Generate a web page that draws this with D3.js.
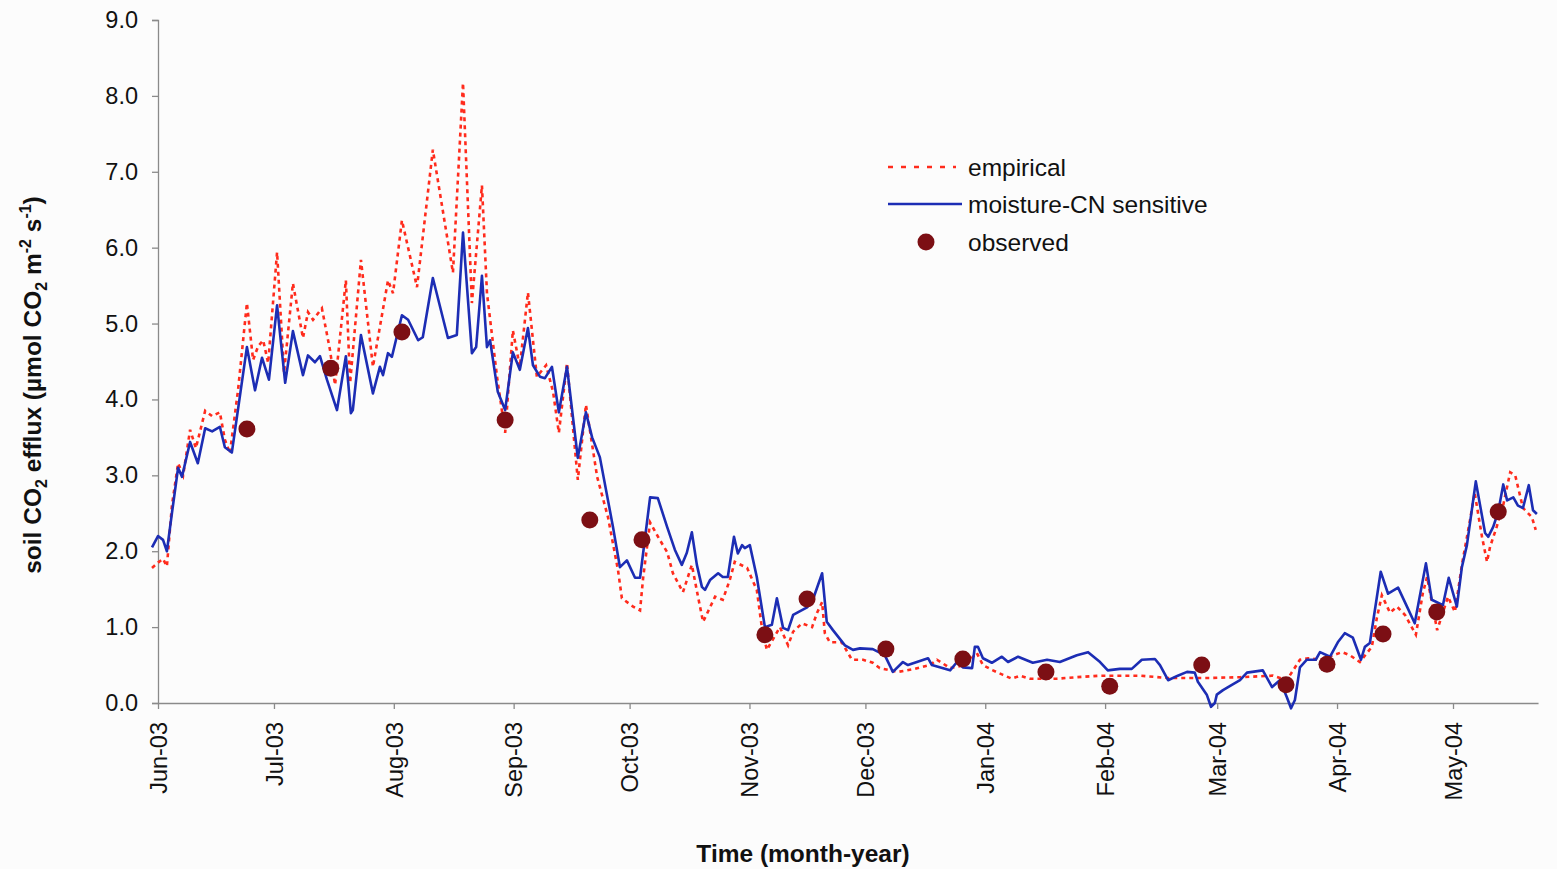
<!DOCTYPE html>
<html>
<head>
<meta charset="utf-8">
<script src="https://cdn.jsdelivr.net/npm/d3@7/dist/d3.min.js"></script>
<style>
  body { margin: 0; background: #fcfcfc; }
  svg { display: block; font-family: "Liberation Sans", Arial, sans-serif; }
</style>
</head>
<body>
<div class="chart"></div>
<script>
// days since 1 Jun 2003, value in umol CO2 m-2 s-1
const empirical = [
  [-1.55,1.78],[0,1.85],[1.3,1.9],[2.3,1.8],[3.6,2.6],[5.2,3.16],[6.5,3.0],[8.3,3.6],[9.8,3.36],
  [12.2,3.85],[14,3.78],[16,3.83],[17.3,3.47],[18.6,3.29],[20.7,4.12],[23,5.27],[24.6,4.52],
  [25.9,4.7],[27.2,4.78],[28.5,4.48],[30.8,5.94],[32.6,4.35],[34.9,5.53],[37.5,4.81],[38.8,5.15],
  [40.1,5.05],[42.4,5.2],[44.5,4.65],[45.8,4.19],[48.6,5.57],[49.7,4.22],[52.5,5.84],[55.6,4.43],
  [59.5,5.57],[60.8,5.4],[63.1,6.36],[67,5.48],[71.1,7.29],[76.3,5.67],[78.9,8.17],[81.2,5.27],
  [83.8,6.82],[85.1,5.4],[87.7,4.3],[89.8,3.56],[91.8,4.91],[93.6,4.43],[95.7,5.41],[98,4.3],
  [100.4,4.45],[102.2,4.1],[103.7,3.56],[105.8,4.48],[108.6,2.94],[110.7,3.93],[113.6,2.98],
  [116.4,2.45],[119,1.75],[120,1.38],[122.9,1.27],[124.7,1.22],[125.5,1.65],[127.3,2.38],
  [129.8,2.15],[131.7,1.99],[133.2,1.71],[135.8,1.46],[138.1,1.82],[139.7,1.4],[141,1.07],
  [142.8,1.26],[144.1,1.4],[146.1,1.36],[147.9,1.62],[149.2,1.86],[152.4,1.78],[154.9,1.49],
  [156.2,1.0],[157.5,0.7],[160.9,1.0],[163,0.76],[164.3,0.94],[166.6,1.05],[169.2,1.0],
  [170.5,1.19],[171.8,1.33],[172.5,0.92],[173.8,0.8],[176.9,0.8],[179.5,0.57],[182.4,0.57],
  [184.9,0.53],[186.7,0.46],[191.4,0.41],[195.8,0.45],[199.7,0.5],[201.5,0.57],[204.9,0.46],
  [208.8,0.5],[211.8,0.66],[213.4,0.5],[216,0.43],[218.6,0.37],[220.9,0.32],[223,0.36],
  [225.6,0.32],[232.5,0.32],[237.7,0.34],[243.7,0.36],[254,0.36],[261,0.33],[272.1,0.33],
  [279.9,0.34],[288.4,0.36],[292,0.3],[295.4,0.57],[297.5,0.59],[300.6,0.57],[306.3,0.67],
  [308.3,0.63],[310.9,0.54],[314,0.74],[315.3,1.12],[316.6,1.42],[318.7,1.19],[320.5,1.27],
  [322.6,1.16],[325.4,0.9],[327.2,1.45],[328.3,1.66],[330.9,0.96],[333.7,1.4],[335.5,1.2],
  [337.3,1.82],[339.4,2.41],[340.6,2.77],[342.5,2.19],[343.8,1.86],[344.6,2.06],[346.3,2.32],
  [348,2.61],[349.8,3.04],[351.1,3.0],[353.1,2.57],[355.4,2.45],[356.4,2.28]
];

const moistureCN = [
  [-1.55,2.05],[0,2.2],[1.3,2.15],[2.3,2.0],[3.6,2.5],[5.2,3.1],[6.2,2.98],[8.3,3.44],[10.3,3.16],
  [12.2,3.62],[14,3.58],[16,3.64],[17.3,3.37],[19.1,3.3],[23,4.69],[25.1,4.12],[26.9,4.55],
  [28.7,4.26],[30.8,5.24],[32.9,4.22],[34.9,4.9],[37.5,4.32],[38.8,4.58],[40.6,4.49],[41.9,4.57],
  [43.7,4.26],[46.3,3.86],[48.6,4.57],[49.9,3.82],[50.4,3.86],[52.5,4.85],[55.6,4.08],[57.4,4.43],
  [58.2,4.32],[59.5,4.61],[60.5,4.56],[63.1,5.11],[64.7,5.05],[67.3,4.78],[68.5,4.82],[71.1,5.6],
  [75,4.81],[77.3,4.85],[78.9,6.2],[81.2,4.61],[82.3,4.69],[83.8,5.63],[85.1,4.69],[85.9,4.78],
  [87.9,4.1],[89.8,3.86],[91.8,4.62],[93.6,4.39],[95.7,4.94],[97,4.45],[98.8,4.3],[100.1,4.28],
  [101.9,4.43],[103.7,3.83],[105.8,4.43],[108.6,3.23],[110.7,3.83],[112.3,3.5],[114.3,3.24],
  [117.7,2.32],[119.5,1.79],[121.3,1.88],[123.4,1.65],[124.7,1.65],[127.3,2.71],[129.3,2.7],
  [131.7,2.32],[133.7,2.02],[135.5,1.82],[136.8,1.98],[138.1,2.25],[139.4,1.82],[140.7,1.53],
  [141.5,1.49],[142.8,1.62],[144.9,1.71],[146.1,1.66],[147.4,1.66],[149,2.19],[150,1.97],
  [151.1,2.08],[151.8,2.04],[153.1,2.08],[154.9,1.66],[157,1.0],[158.8,1.03],[160.1,1.38],
  [161.7,0.99],[163,0.96],[164.3,1.16],[167.9,1.26],[169.4,1.36],[171.8,1.71],[173,1.07],
  [174.6,0.96],[177.7,0.76],[179.8,0.7],[181.6,0.72],[184.9,0.71],[188,0.63],[190.1,0.41],
  [192.7,0.54],[194,0.5],[199.2,0.59],[200.2,0.5],[204.9,0.43],[206.7,0.54],[208.2,0.47],
  [210.6,0.46],[211.3,0.74],[212.1,0.74],[213.4,0.59],[215.7,0.53],[218.3,0.61],[219.9,0.54],
  [222.5,0.61],[226.3,0.53],[230,0.57],[233.3,0.54],[237.7,0.63],[240.6,0.67],[243.7,0.54],
  [245.7,0.43],[248.8,0.45],[251.9,0.45],[254.5,0.57],[257.9,0.58],[259.2,0.5],[261.3,0.3],
  [263.8,0.36],[266.2,0.41],[268.2,0.4],[269,0.28],[271.3,0.11],[272.4,-0.05],[273.4,0.0],
  [273.9,0.11],[275.5,0.17],[277.8,0.24],[279.9,0.3],[281.7,0.4],[285.8,0.43],[288.2,0.21],
  [290.2,0.3],[292,0.08],[293.1,-0.07],[294.1,0.04],[295.4,0.47],[297.2,0.57],[299.5,0.57],
  [300.6,0.67],[303.2,0.61],[305.2,0.8],[307,0.92],[309.1,0.86],[311.2,0.57],[312.2,0.74],
  [313.5,0.79],[316.3,1.73],[318.2,1.44],[320.8,1.52],[323.1,1.27],[325.1,1.05],[328,1.84],
  [329.5,1.36],[332.4,1.29],[333.9,1.65],[336,1.27],[337.3,1.79],[338.6,2.08],[340.9,2.92],
  [343.3,2.24],[344.1,2.19],[345.4,2.32],[346.7,2.52],[348,2.88],[349,2.67],[350.6,2.71],
  [351.8,2.6],[353.1,2.57],[354.6,2.87],[355.7,2.54],[356.7,2.49]
];

const observed = [
  [23,3.61],[44.7,4.41],[63.1,4.89],[89.8,3.73],[111.7,2.41],[125.2,2.15],[157,0.9],[167.9,1.37],
  [188.3,0.71],[208.2,0.58],[229.7,0.41],[246.2,0.22],[270,0.5],[291.8,0.24],[302.4,0.51],
  [316.9,0.91],[330.8,1.2],[346.7,2.52]
];

const yTicks = [0,1,2,3,4,5,6,7,8,9];
const legendItems = ['empirical', 'moisture-CN sensitive', 'observed'];

const W = 1557, H = 869;
const start = new Date(2003, 5, 1);
const toDate = d => new Date(start.getTime() + d * 864e5);
const pxPerDay = 1295 / 335;

const x = d3.scaleTime()
  .domain([start, new Date(2004, 4, 1)])
  .range([158, 1453]);
const y = d3.scaleLinear().domain([0, 9]).range([703, 20]);

const svg = d3.select('div.chart').append('svg')
  .attr('width', W).attr('height', H);

const axisColor = '#8a8a8a';
const font = '"Liberation Sans", Arial, sans-serif';

// y axis
const yAxis = svg.append('g')
  .attr('transform', 'translate(158,0)')
  .call(d3.axisLeft(y).tickValues(yTicks).tickFormat(d3.format('.1f')).tickSize(6).tickPadding(14));
yAxis.select('.domain').attr('stroke', axisColor).attr('stroke-width', 1.3);
yAxis.selectAll('.tick line').attr('stroke', axisColor).attr('stroke-width', 1.3);
yAxis.selectAll('.tick text').attr('font-size', 23.5).attr('fill', '#111').attr('font-family', font);

// x axis, line runs a little past May-04
const xAxisScale = x.copy()
  .domain([start, d3.timeDay.offset(new Date(2004, 4, 1), 22)])
  .range([158, 1453 + 22 * pxPerDay]);
const xAxis = svg.append('g')
  .attr('transform', 'translate(0,703)')
  .call(d3.axisBottom(xAxisScale)
    .ticks(d3.timeMonth.every(1))
    .tickFormat(d3.timeFormat('%b-%y'))
    .tickSize(6).tickSizeOuter(0));
xAxis.select('.domain').attr('stroke', axisColor).attr('stroke-width', 1.3);
xAxis.selectAll('.tick line').attr('stroke', axisColor).attr('stroke-width', 1.3);
xAxis.selectAll('.tick text')
  .attr('font-size', 23.5).attr('fill', '#111')
  .attr('font-family', font)
  .attr('transform', 'rotate(-90)')
  .attr('text-anchor', 'end')
  .attr('x', -19).attr('y', 0).attr('dy', '0.35em');

// lines
const line = d3.line().x(d => x(toDate(d[0]))).y(d => y(d[1]));

svg.append('path').datum(empirical)
  .attr('d', line).attr('fill', 'none')
  .attr('stroke', '#ff2b1c').attr('stroke-width', 2.6)
  .attr('stroke-dasharray', '4,4');

svg.append('path').datum(moistureCN)
  .attr('d', line).attr('fill', 'none')
  .attr('stroke', '#1c2db4').attr('stroke-width', 2.6)
  .attr('stroke-linejoin', 'round');

svg.append('g').selectAll('circle').data(observed).join('circle')
  .attr('cx', d => x(toDate(d[0]))).attr('cy', d => y(d[1]))
  .attr('r', 8.5).attr('fill', '#7c0f14');

// axis titles
const yt = svg.append('text')
  .attr('transform', 'translate(41,385) rotate(-90)')
  .attr('text-anchor', 'middle')
  .attr('font-size', 24.5).attr('font-weight', 'bold').attr('fill', '#111');
yt.append('tspan').text('soil CO');
yt.append('tspan').text('2').attr('font-size', 16).attr('dy', 6);
yt.append('tspan').text(' efflux (\u00b5mol CO').attr('dy', -6);
yt.append('tspan').text('2').attr('font-size', 16).attr('dy', 6);
yt.append('tspan').text(' m').attr('dy', -6);
yt.append('tspan').text('-2').attr('font-size', 16).attr('dy', -10);
yt.append('tspan').text(' s').attr('dy', 10);
yt.append('tspan').text('-1').attr('font-size', 16).attr('dy', -10);
yt.append('tspan').text(')').attr('dy', 10);

svg.append('text')
  .attr('x', 803).attr('y', 862)
  .attr('text-anchor', 'middle')
  .attr('font-size', 24.5).attr('font-weight', 'bold').attr('fill', '#111')
  .text('Time (month-year)');

// legend
const lg = svg.append('g');
const ly = [167, 204, 242];
lg.append('line').attr('x1', 888).attr('x2', 956).attr('y1', ly[0]).attr('y2', ly[0])
  .attr('stroke', '#ff2b1c').attr('stroke-width', 2.6).attr('stroke-dasharray', '5,8');
lg.append('line').attr('x1', 888).attr('x2', 962).attr('y1', ly[1]).attr('y2', ly[1])
  .attr('stroke', '#1c2db4').attr('stroke-width', 2.6);
lg.append('circle').attr('cx', 926).attr('cy', ly[2]).attr('r', 8.5).attr('fill', '#7c0f14');
lg.selectAll('text').data(legendItems).join('text')
  .attr('x', 968).attr('y', (d, i) => ly[i]).attr('dy', '0.35em')
  .attr('font-size', 24.5).attr('fill', '#111').attr('font-family', font)
  .text(d => d);
</script>
</body>
</html>
